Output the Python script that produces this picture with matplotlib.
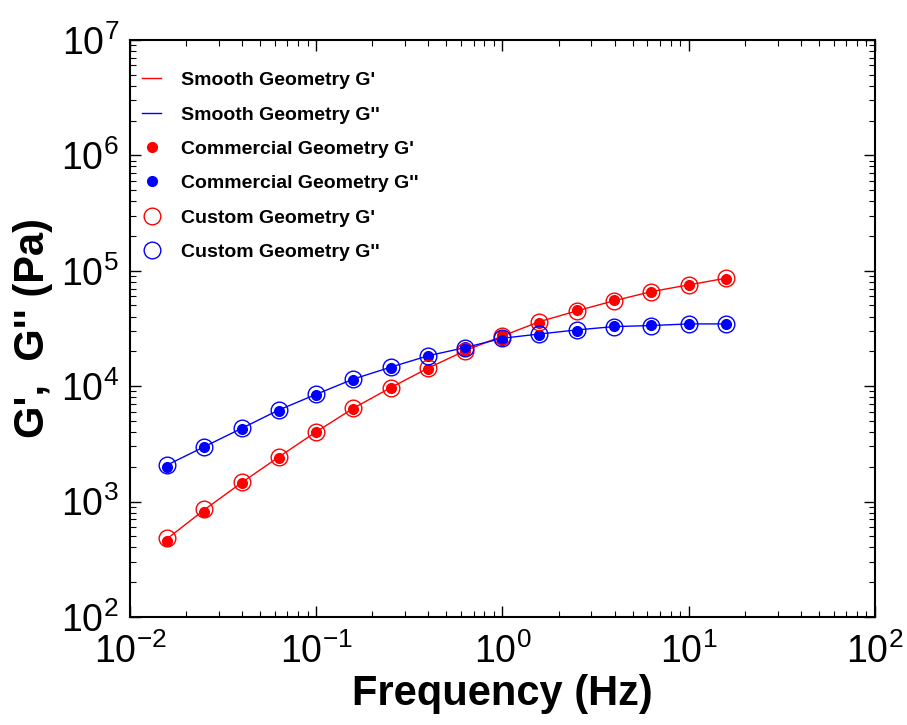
import matplotlib
matplotlib.use("Agg")
import matplotlib.pyplot as plt
from matplotlib.ticker import LogLocator, NullFormatter

# frequencies (Hz), 5 points per decade
freq = [0.0158, 0.0251, 0.0398, 0.0631, 0.1, 0.158, 0.251, 0.398, 0.631,
        1.0, 1.58, 2.51, 3.98, 6.31, 10.0, 15.8]

# smooth geometry (lines)
smooth_gp = [475, 850, 1460, 2440, 4020, 6420, 9700, 14300, 20300,
             27200, 36200, 44900, 55000, 65900, 75400, 86000]
smooth_gpp = [2070, 2990, 4310, 6220, 8500, 11500, 14600, 18300, 21600,
              26000, 28300, 30700, 32800, 33500, 34600, 34600]

# commercial geometry (filled dots)
comm_gp = [455, 820, 1440, 2400, 3980, 6380, 9600, 14200, 20100,
           27600, 35500, 45300, 55800, 64900, 75800, 85300]
comm_gpp = [2000, 2940, 4260, 6050, 8450, 11400, 14500, 18200, 22000,
            25300, 28000, 30200, 33000, 34000, 34800, 34800]

# custom geometry (open circles)
cust_gp = [481, 858, 1470, 2450, 4030, 6430, 9710, 14290, 20300,
           27220, 36200, 44870, 55070, 65910, 75360, 86100]
cust_gpp = [2076, 2990, 4317, 6220, 8505, 11540, 14580, 18270, 21570,
            26000, 28330, 30690, 32800, 33450, 34600, 34600]

plt.rcParams['font.family'] = ['Liberation Sans', 'DejaVu Sans']
plt.rcParams['axes.unicode_minus'] = False

fig = plt.figure(figsize=(9.07, 7.25), dpi=100)
ax = fig.add_axes([0.1433, 0.149, 0.8214, 0.796])

ax.plot(freq, smooth_gp, '-', color='red', lw=1.0, label="Smooth Geometry G'")
ax.plot(freq, smooth_gpp, '-', color='blue', lw=1.0, label="Smooth Geometry G''")
ax.plot(freq, comm_gp, 'o', color='red', ms=7, mec='red', ls='none',
        label="Commercial Geometry G'")
ax.plot(freq, comm_gpp, 'o', color='blue', ms=7, mec='blue', ls='none',
        label="Commercial Geometry G''")
ax.plot(freq, cust_gp, 'o', mfc='none', mec='red', ms=12, mew=1.0, ls='none',
        label="Custom Geometry G'")
ax.plot(freq, cust_gpp, 'o', mfc='none', mec='blue', ms=12, mew=1.0, ls='none',
        label="Custom Geometry G''")

ax.set_xscale('log')
ax.set_yscale('log')
ax.set_xlim(1e-2, 1e2)
ax.set_ylim(1e2, 1e7)

ax.xaxis.set_major_locator(LogLocator(base=10, numticks=10))
ax.yaxis.set_major_locator(LogLocator(base=10, numticks=10))
ax.xaxis.set_minor_locator(LogLocator(base=10, subs=range(2, 10), numticks=20))
ax.yaxis.set_minor_locator(LogLocator(base=10, subs=range(2, 10), numticks=20))
ax.xaxis.set_minor_formatter(NullFormatter())
ax.yaxis.set_minor_formatter(NullFormatter())

ax.tick_params(which='both', direction='in', top=True, right=True)
ax.tick_params(which='major', length=8, width=1.0, labelsize=27)
ax.tick_params(axis='x', which='major', pad=12)
ax.tick_params(axis='y', which='major', pad=8)
ax.tick_params(which='minor', length=4, width=0.8)
for s in ax.spines.values():
    s.set_linewidth(1.5)

ax.set_xlabel('Frequency (Hz)', fontsize=30, fontweight='bold', labelpad=2)
ax.set_ylabel("G',  G'' (Pa)", fontsize=30, fontweight='bold', labelpad=6)

ax.legend(loc='upper left', bbox_to_anchor=(0.016, 0.945), frameon=False,
          prop={'weight': 'bold', 'size': 14}, handlelength=1.0,
          handletextpad=1.0, labelspacing=0.86, borderaxespad=0.0,
          borderpad=0.0, numpoints=1)

fig.savefig('out.png', dpi=100)
